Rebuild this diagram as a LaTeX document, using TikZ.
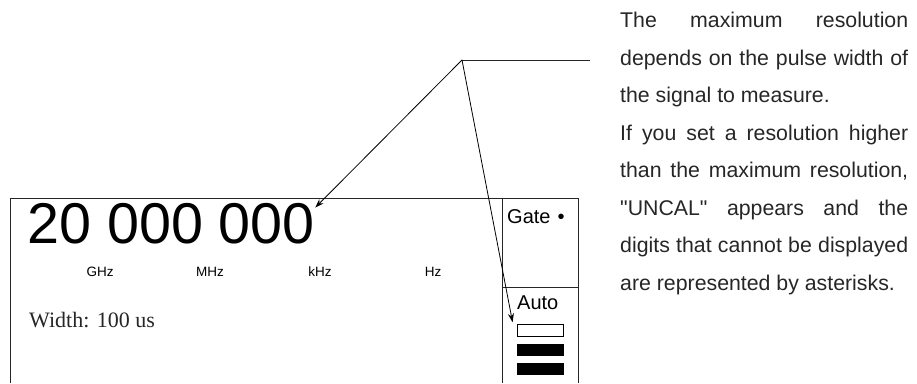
\documentclass[tikz,border=0pt]{standalone}
\usepackage{fontspec}
\setmainfont{Liberation Sans}
\newfontfamily\timesfont{Liberation Serif}
\usepackage{tikz}
\usetikzlibrary{positioning,arrows.meta}

\begin{document}
\begin{tikzpicture}[x=1pt, y=-1pt,
      frame/.style={line width=0.9pt, color=black!85},
      unit/.style={font=\fontsize{13.5}{15}\selectfont, inner sep=0pt, anchor=base},
      label/.style={font=\fontsize{20}{22}\selectfont, inner sep=0pt, anchor=base west},
      seta/.style={-{Stealth[length=9pt, width=6pt]}, line width=0.8pt, color=black},
      bar/.style={draw=black, line width=0.8pt, minimum width=46pt, minimum height=11.5pt, inner sep=0pt},
      nota/.style={font=\fontsize{21.3}{37.5}\selectfont, text width=288pt,
        align=justify, inner sep=0pt, anchor=north west, color=black!85}]
    \useasboundingbox (0,0) rectangle (917,383);
    \draw[frame] (10,383) |- (578,198) -- (578,383);
    \draw[frame] (502,198) -- (502,383);
    \draw[frame] (502,287) -- (578,287);
    \node[inner sep=0pt, anchor=base west, font=\fontsize{57.5}{60}\selectfont] (digits) at (27,243) {20 000 000};
    \node[unit] (ghz) at (100,276) {GHz};
    \node[unit] (mhz) at (210,276) {MHz};
    \node[unit] (khz) at (320,276) {kHz};
    \node[unit] (hz) at (433,276) {Hz};
    \node[inner sep=0pt, anchor=base west, font=\timesfont\fontsize{22}{24}\selectfont, color=black!85] (width) at (29,327) {Width: 100 us};
    \node[label] (gate) at (507,223) {Gate\hspace{7pt}\textbullet};
    \node[label] (auto) at (517,309) {Auto};
    \node[bar] (bar1) at (540,330.5) {};
    \node[bar, fill=black, below=7pt of bar1] (bar2) {};
    \node[bar, fill=black, below=7pt of bar2] (bar3) {};
    \node[nota] (note) at (620,12) {The maximum resolution\linebreak
      depends on the pulse width of\linebreak
      the signal to measure.\\
      If you set a resolution higher\linebreak
      than the maximum resolution,\linebreak
      \textquotedbl UNCAL\textquotedbl{} appears and the\linebreak
      digits that cannot be displayed\linebreak
      are represented by asterisks.};
    \coordinate (knee) at (462,60);
    \coordinate (tail) at (590,60);
    \draw[frame] (tail) -- (knee);
    \draw[seta] (knee) -- ([yshift=-5pt]digits.north east);
    \draw[seta] (knee) -- ([xshift=-4pt, yshift=2pt]bar1.north west);
  \end{tikzpicture}
\end{document}
